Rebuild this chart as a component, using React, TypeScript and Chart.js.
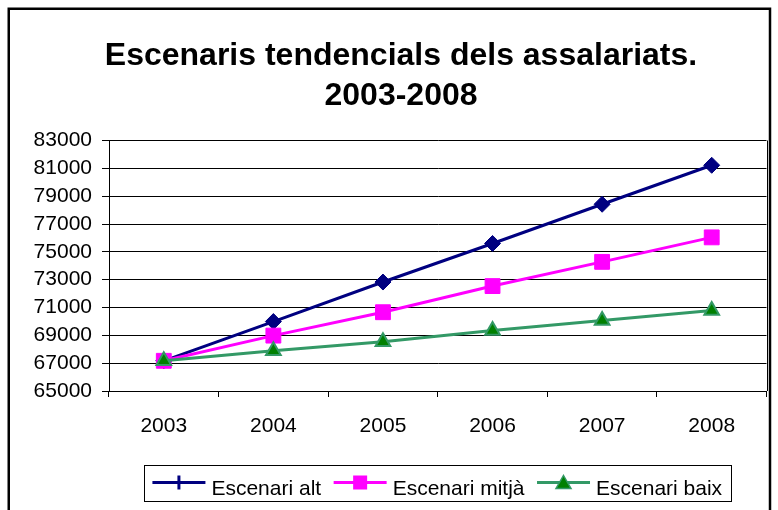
import React, { useEffect, useRef } from "react";
import { Chart, registerables } from "chart.js";

Chart.register(...registerables);

const FONT = "'Liberation Sans', Arial, Helvetica, sans-serif";

const categories = ["2003", "2004", "2005", "2006", "2007", "2008"];
const escenariAlt = [67170, 69990, 72830, 75600, 78420, 81220];
const escenariMitja = [67170, 68980, 70660, 72540, 74280, 76040];
const escenariBaix = [67170, 67890, 68540, 69340, 70060, 70780];
const seriesNames = ["Escenari alt", "Escenari mitjà", "Escenari baix"];
const titleLines = ["Escenaris tendencials dels assalariats.", "2003-2008"];
const yMin = 65000;
const yMax = 83000;
const yStep = 2000;

const NAVY = "#000080";
const MAGENTA = "#FF00FF";
const SEA = "#339966";
const GREEN = "#008000";

const framePlugin = {
  id: "frame",
  beforeDraw(chart: any) {
    const ctx = chart.ctx;
    ctx.save();
    ctx.fillStyle = "#ffffff";
    ctx.fillRect(0, 0, chart.width, chart.height);
    ctx.strokeStyle = "#000000";
    ctx.lineWidth = 2.5;
    ctx.strokeRect(8.75, 8.75, 770 - 8.75, chart.height + 40);
    ctx.restore();
  },
  afterDatasetsDraw(chart: any) {
    const { right, top, bottom } = chart.chartArea;
    const ctx = chart.ctx;
    ctx.save();
    ctx.strokeStyle = "#000000";
    ctx.lineWidth = 1;
    ctx.beginPath();
    ctx.moveTo(Math.round(right) + 0.5, top);
    ctx.lineTo(Math.round(right) + 0.5, bottom);
    ctx.stroke();
    ctx.restore();
  },
};

const legendPlugin = {
  id: "customLegend",
  afterDraw(chart: any) {
    const ctx = chart.ctx;
    const { left, right } = chart.chartArea;
    ctx.save();
    ctx.font = `21px ${FONT}`;
    const lineLen = 53;
    const gapText = 6;
    const gapItem = 12.5;
    const padL = 8;
    const padR = 9;
    const widths = seriesNames.map((n) => ctx.measureText(n).width);
    const total =
      widths.reduce((a, w) => a + lineLen + gapText + w, 0) +
      gapItem * (seriesNames.length - 1) +
      padL +
      padR;
    const cx = (left + right) / 2;
    const bx = cx - total / 2;
    const by = chart.height - 45;
    const bh = 36;
    ctx.strokeStyle = "#000000";
    ctx.lineWidth = 1;
    ctx.strokeRect(Math.round(bx) + 0.5, Math.round(by) + 0.5, Math.round(total), bh);
    const ly = by + 17.5;
    let x = bx + padL;
    seriesNames.forEach((name, i) => {
      const color = i === 0 ? NAVY : i === 1 ? MAGENTA : SEA;
      ctx.strokeStyle = color;
      ctx.lineWidth = 3;
      ctx.beginPath();
      ctx.moveTo(x, ly);
      ctx.lineTo(x + lineLen, ly);
      ctx.stroke();
      const mx = x + lineLen / 2;
      if (i === 0) {
        ctx.strokeStyle = NAVY;
        ctx.lineWidth = 3;
        ctx.beginPath();
        ctx.moveTo(mx, ly - 7);
        ctx.lineTo(mx, ly + 7);
        ctx.stroke();
      } else if (i === 1) {
        ctx.fillStyle = MAGENTA;
        ctx.fillRect(mx - 7, ly - 7, 14, 14);
      } else {
        ctx.fillStyle = GREEN;
        ctx.strokeStyle = SEA;
        ctx.lineWidth = 1.5;
        ctx.beginPath();
        ctx.moveTo(mx, ly - 7);
        ctx.lineTo(mx + 7.5, ly + 6);
        ctx.lineTo(mx - 7.5, ly + 6);
        ctx.closePath();
        ctx.fill();
        ctx.stroke();
      }
      ctx.fillStyle = "#000000";
      ctx.textAlign = "left";
      ctx.textBaseline = "alphabetic";
      ctx.fillText(name, x + lineLen + gapText, by + 30);
      x += lineLen + gapText + widths[i] + gapItem;
    });
    ctx.restore();
  },
};

export default function App() {
  const canvasRef = useRef<HTMLCanvasElement | null>(null);

  useEffect(() => {
    if (!canvasRef.current) return;
    const chart = new Chart(canvasRef.current, {
      type: "line",
      data: {
        labels: categories,
        datasets: [
          {
            label: seriesNames[0],
            data: escenariAlt,
            borderColor: NAVY,
            backgroundColor: NAVY,
            borderWidth: 3,
            pointStyle: "rectRot",
            pointRadius: 8,
            pointBorderWidth: 1,
            pointBackgroundColor: NAVY,
            pointBorderColor: NAVY,
            tension: 0,
            order: 3,
          },
          {
            label: seriesNames[1],
            data: escenariMitja,
            borderColor: MAGENTA,
            backgroundColor: MAGENTA,
            borderWidth: 3,
            pointStyle: "rect",
            pointRadius: 10.5,
            pointBorderWidth: 1,
            pointBackgroundColor: MAGENTA,
            pointBorderColor: MAGENTA,
            tension: 0,
            order: 2,
          },
          {
            label: seriesNames[2],
            data: escenariBaix,
            borderColor: SEA,
            backgroundColor: GREEN,
            borderWidth: 3,
            pointStyle: "triangle",
            pointRadius: 8.5,
            pointBorderWidth: 2,
            pointBackgroundColor: GREEN,
            pointBorderColor: SEA,
            tension: 0,
            order: 1,
          },
        ],
      },
      options: {
        animation: false,
        responsive: false,
        maintainAspectRatio: false,
        layout: { padding: { left: 34, right: 10, top: 0, bottom: 59 } },
        plugins: {
          legend: { display: false },
          tooltip: { enabled: false },
          title: {
            display: true,
            text: titleLines,
            color: "#000000",
            font: { family: FONT, size: 32, weight: "bold", lineHeight: 40 / 32 },
            padding: { top: 36, bottom: 24.5 },
          },
        },
        scales: {
          x: {
            type: "category",
            offset: true,
            afterFit: (s: any) => {
              s.height = 60;
            },
            grid: {
              offset: true,
              drawOnChartArea: false,
              drawTicks: true,
              tickLength: 6,
              color: "#000000",
              lineWidth: 1,
            },
            border: { display: true, color: "#000000", width: 1 },
            ticks: {
              color: "#000000",
              font: { family: FONT, size: 21 },
              padding: 17,
              maxRotation: 0,
              autoSkip: false,
            },
          },
          y: {
            min: yMin,
            max: yMax,
            afterFit: (s: any) => {
              s.width = 75;
            },
            grid: {
              color: "#000000",
              lineWidth: 1,
              drawTicks: true,
              tickLength: 7,
            },
            border: { display: true, color: "#000000", width: 1 },
            ticks: {
              stepSize: yStep,
              autoSkip: false,
              color: "#000000",
              font: { family: FONT, size: 21 },
              padding: 10,
              callback: (v: any) => String(v),
            },
          },
        },
      },
      plugins: [framePlugin, legendPlugin],
    });
    return () => chart.destroy();
  }, []);

  return (
    <div style={{ position: "absolute", left: 0, top: 0, width: 778, height: 510 }}>
      <canvas ref={canvasRef} width={778} height={510} style={{ display: "block" }} />
    </div>
  );
}
